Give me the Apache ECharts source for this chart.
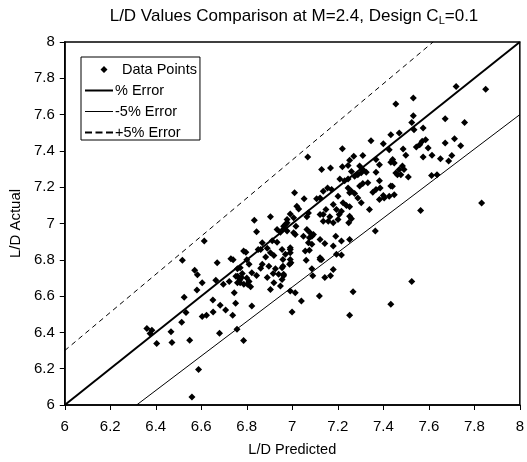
<!DOCTYPE html>
<html><head><meta charset="utf-8">
<script src="https://cdn.jsdelivr.net/npm/echarts@6/dist/echarts.min.js"></script>
<style>html,body{margin:0;padding:0;background:#fff}#c{width:527px;height:462px}</style>
</head><body><div id="c"></div>
<script>
const titleText = 'L/D Values Comparison at M=2.4, Design C{sub|L}=0.1';
const xName = 'L/D Predicted';
const yName = 'L/D Actual';
const legendNames = ['Data Points', '% Error', '-5% Error', '+5% Error'];

const pts = [
[6.833,7.018],[6.843,6.954],[6.613,6.903],[6.517,6.797],[6.670,6.784],[6.730,6.806],[6.740,6.800],[6.786,6.848],[6.796,6.842],[6.850,6.857],
[6.571,6.742],[6.583,6.718],[6.604,6.674],[6.664,6.687],[6.697,6.665],[6.723,6.681],[6.759,6.751],[6.771,6.756],[6.760,6.710],[6.770,6.690],
[6.787,6.665],[6.800,6.700],[6.810,6.680],[6.780,6.725],[6.822,6.729],[6.843,6.714],[6.861,6.753],[6.810,6.775],[6.800,6.800],[6.581,6.634],
[6.525,6.593],[6.533,6.509],[6.514,6.456],[6.604,6.488],[6.623,6.495],[6.652,6.513],[6.651,6.579],[6.683,6.549],[6.707,6.524],[6.738,6.495],
[6.751,6.560],[6.745,6.619],[6.822,6.546],[6.361,6.421],[6.383,6.412],[6.375,6.394],[6.404,6.339],[6.467,6.403],[6.471,6.344],[6.549,6.357],
[6.680,6.396],[6.757,6.418],[6.786,6.355],[6.588,6.196],[6.559,6.044],
[7.010,7.169],[6.904,7.037],[6.991,7.052],[7.020,7.095],[6.977,7.004],[7.006,7.031],[6.933,6.967],[6.948,6.952],[6.962,6.970],[6.977,6.958],
[7.016,6.985],[6.868,6.894],[6.861,6.857],[6.890,6.863],[6.912,6.905],[6.933,6.897],[6.955,6.857],[6.991,6.857],[6.904,6.839],[6.919,6.824],
[6.883,6.815],[6.959,6.802],[6.991,6.802],[6.868,6.775],[6.897,6.765],[6.926,6.751],[6.955,6.756],[6.890,6.702],[6.916,6.724],[6.940,6.720],
[6.962,6.720],[6.777,6.702],[6.771,6.674],[6.803,6.665],[6.817,6.652],[6.759,6.674],[6.752,6.710],[6.955,6.692],[6.948,6.656],[6.919,6.674],
[6.904,6.637],[6.991,6.628],[7.013,6.619],
[7.433,7.489],[7.346,7.456],[7.400,7.440],[7.426,7.407],[7.220,7.412],[7.068,7.366],[7.270,7.370],[7.252,7.349],[7.310,7.374],[7.368,7.352],
[7.383,7.324],[7.129,7.297],[7.168,7.306],[7.220,7.312],[7.245,7.319],[7.296,7.317],[7.310,7.297],[7.303,7.279],[7.288,7.269],[7.325,7.282],
[7.260,7.287],[7.274,7.260],[7.245,7.245],[7.209,7.245],[7.368,7.282],[7.310,7.220],[7.332,7.224],[7.296,7.206],[7.230,7.235],[7.245,7.196],
[7.260,7.178],[7.274,7.165],[7.252,7.169],[7.383,7.235],[7.368,7.187],[7.354,7.172],[7.386,7.196],[7.455,7.278],[7.440,7.205],[7.383,7.132],
[7.404,7.141],[7.426,7.150],[7.448,7.159],[7.052,7.136],[7.107,7.136],[7.136,7.178],[7.173,7.187],[7.155,7.196],[7.122,7.141],[7.201,7.150],
[7.223,7.114],[7.238,7.099],[7.252,7.092],[7.288,7.141],[7.303,7.114],[7.339,7.077],[7.180,7.104],[7.194,7.077],[7.216,7.068],[7.206,7.049],
[7.252,7.040],[7.260,7.026],[7.248,7.004],[7.148,7.077],[7.122,7.049],[7.136,7.049],[7.165,7.037],[7.136,7.013],[7.158,7.013],[7.180,7.004],
[7.201,7.022],[7.071,7.058],[7.064,7.037],[7.028,7.080],[6.977,7.022],[6.970,6.995],[6.962,6.985],[7.013,6.940],[7.006,6.949],[7.064,6.967],
[7.078,6.949],[7.086,6.930],[7.075,6.921],[7.093,6.940],[7.071,6.894],[7.086,6.885],[7.049,6.930],[7.122,6.912],[7.143,6.890],[7.191,6.930],
[7.180,6.876],[7.252,6.912],[7.216,6.903],[6.991,6.866],[6.991,6.839],[6.970,6.830],[7.057,6.848],[7.075,6.853],[7.122,6.811],[7.365,6.958],
[7.720,7.755],[7.850,7.740],[7.455,7.658],[7.532,7.691],[7.532,7.593],[7.525,7.557],[7.535,7.516],[7.575,7.526],[7.672,7.577],[7.757,7.557],
[7.470,7.498],[7.487,7.410],[7.499,7.376],[7.545,7.421],[7.560,7.434],[7.571,7.453],[7.586,7.462],[7.597,7.416],[7.575,7.366],[7.614,7.376],
[7.672,7.443],[7.713,7.467],[7.740,7.429],[7.651,7.357],[7.687,7.344],[7.701,7.374],[7.441,7.352],[7.448,7.334],[7.433,7.338],[7.484,7.317],
[7.491,7.297],[7.470,7.297],[7.477,7.269],[7.462,7.269],[7.510,7.256],[7.612,7.264],[7.636,7.269],[7.433,7.206],[7.400,7.154],[7.564,7.071],
[7.832,7.113],
[7.194,6.830],[7.216,6.826],[6.959,6.765],[6.994,6.784],[6.988,6.775],[6.962,6.712],[7.061,6.798],[7.122,6.802],[7.129,6.802],[7.086,6.751],
[7.090,6.712],[7.143,6.702],[7.168,6.712],[7.180,6.746],[7.040,6.573],[7.119,6.601],[6.999,6.513],[7.267,6.624],[7.252,6.495],[7.433,6.555],
[7.525,6.680]
];
const ldPredicted = pts.map(p => p[0]);
const ldActual = pts.map(p => p[1]);

const perfectLine = [[6, 6], [8, 8]];
const minus5Line = [[6.3158, 6], [8, 7.6]];
const plus5Line = [[6, 6.3], [7.619, 8]];

// legend icons: tiny corner anchors keep a 28x12 box so shapes are not stretched
const ANCHOR = 'M0,0h0.01v0.01h-0.01Z M27.99,11.99h0.01v0.01h-0.01Z ';
const iconDiamond = 'path://' + ANCHOR + 'M19,2.5L22.5,6L19,9.5L15.5,6Z';
const iconThick = 'path://' + ANCHOR + 'M0,5h28v2h-28Z';
const iconThin = 'path://' + ANCHOR + 'M0,5.5h28v1h-28Z';
const iconDash = 'path://' + ANCHOR + 'M0,5h7v2h-7Z M10.5,5h7v2h-7Z M21,5h7v2h-7Z';

const FONT = 'Liberation Sans, Arial, sans-serif';
const chart = echarts.init(document.getElementById('c'), null, {renderer: 'canvas'});
chart.setOption({
  animation: false,
  backgroundColor: '#fff',
  textStyle: {fontFamily: FONT, color: '#000'},
  title: {
    text: titleText,
    left: 294, top: 6, textAlign: 'center', padding: 0,
    textStyle: {
      fontFamily: FONT, fontSize: 17, fontWeight: 'normal', color: '#000', lineHeight: 20,
      rich: {sub: {fontFamily: FONT, fontSize: 11, color: '#000', verticalAlign: 'bottom', lineHeight: 13}}
    }
  },
  grid: {left: 62, top: 42, right: 5, bottom: 56, show: true, borderColor: '#000', borderWidth: 1.5, containLabel: false},
  legend: {
    orient: 'vertical', left: 81, top: 57,
    symbolKeepAspect: true,
    data: [
      {name: legendNames[0], icon: iconDiamond, textStyle: {padding: [0, 0, 0, 4]}},
      {name: legendNames[1], icon: iconThick},
      {name: legendNames[2], icon: iconThin},
      {name: legendNames[3], icon: iconDash}
    ],
    itemWidth: 28, itemHeight: 12, itemGap: 6,
    padding: [5, 3, 0, 4],
    borderColor: '#000', borderWidth: 1,
    itemStyle: {borderWidth: 0},
    textStyle: {fontFamily: FONT, fontSize: 14.5, color: '#000', padding: [0, 0, 0, -3]},
    backgroundColor: '#fff'
  },
  xAxis: {
    type: 'value', min: 6, max: 8, interval: 0.2,
    name: xName, nameLocation: 'middle', nameGap: 37,
    nameTextStyle: {fontFamily: FONT, fontSize: 14.5, color: '#000'},
    axisLine: {lineStyle: {color: '#000', width: 1.5}},
    axisTick: {show: true, inside: false, length: 5, lineStyle: {color: '#000'}},
    axisLabel: {fontFamily: FONT, fontSize: 15, color: '#000', margin: 14},
    splitLine: {show: false}
  },
  yAxis: {
    type: 'value', min: 6, max: 8, interval: 0.2,
    name: yName, nameLocation: 'middle', nameGap: 40, nameRotate: 90,
    nameTextStyle: {fontFamily: FONT, fontSize: 15, color: '#000'},
    axisLine: {show: true, lineStyle: {color: '#000', width: 1.5}},
    axisTick: {show: true, inside: false, length: 5, lineStyle: {color: '#000'}},
    axisLabel: {fontFamily: FONT, fontSize: 15, color: '#000', margin: 10},
    splitLine: {show: false}
  },
  series: [
    {
      name: legendNames[0], type: 'scatter', symbol: 'diamond', symbolSize: 7,
      itemStyle: {color: '#000', opacity: 1, borderWidth: 0},
      data: ldPredicted.map((x, i) => [x, ldActual[i]]), z: 3
    },
    {
      name: legendNames[1], type: 'line', data: perfectLine, symbol: 'none', showSymbol: false,
      lineStyle: {color: '#000', width: 2}, itemStyle: {color: '#000', borderWidth: 0}, z: 2
    },
    {
      name: legendNames[2], type: 'line', data: minus5Line, symbol: 'none', showSymbol: false,
      lineStyle: {color: '#000', width: 1}, itemStyle: {color: '#000', borderWidth: 0}, z: 2
    },
    {
      name: legendNames[3], type: 'line', data: plus5Line, symbol: 'none', showSymbol: false,
      lineStyle: {color: '#000', width: 1, type: [5, 4]}, itemStyle: {color: '#000', borderWidth: 0}, z: 2
    }
  ]
});
</script></body></html>
